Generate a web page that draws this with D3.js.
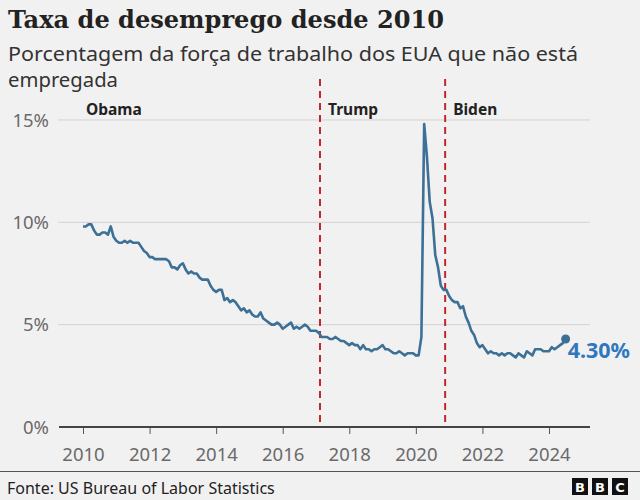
<!DOCTYPE html>
<html><head><meta charset="utf-8">
<script src="https://cdn.jsdelivr.net/npm/d3@7"></script>
<style>
html,body{margin:0;padding:0;background:#f2f1f1;}
svg{display:block;}
</style></head>
<body>
<script>
const years = [2010,2011,2012,2013,2014,2015,2016,2017,2018,2019,2020,2021,2022,2023,2024];
const rates2010 = [9.8,9.8,9.9,9.9,9.6,9.4,9.4,9.5,9.5,9.4,9.8,9.3];
const rates2011 = [9.1,9.0,9.0,9.1,9.0,9.1,9.0,9.0,9.0,8.8,8.6,8.5];
const rates2012 = [8.3,8.3,8.2,8.2,8.2,8.2,8.2,8.1,7.8,7.8,7.7,7.9];
const rates2013 = [8.0,7.7,7.5,7.6,7.5,7.5,7.3,7.2,7.2,7.2,6.9,6.7];
const rates2014 = [6.6,6.7,6.7,6.2,6.3,6.1,6.2,6.1,5.9,5.7,5.8,5.6];
const rates2015 = [5.7,5.5,5.4,5.4,5.6,5.3,5.2,5.1,5.0,5.0,5.1,5.0];
const rates2016 = [4.8,4.9,5.0,5.1,4.8,4.9,4.8,4.9,5.0,4.9,4.7,4.7];
const rates2017 = [4.7,4.6,4.4,4.4,4.4,4.3,4.3,4.4,4.3,4.2,4.2,4.1];
const rates2018 = [4.0,4.1,4.0,4.0,3.8,4.0,3.8,3.8,3.7,3.8,3.8,3.9];
const rates2019 = [4.0,3.8,3.8,3.7,3.6,3.6,3.7,3.6,3.5,3.6,3.6,3.6];
const rates2020 = [3.5,3.5,4.4,14.8,13.2,11.0,10.2,8.4,7.8,6.9,6.7,6.7];
const rates2021 = [6.4,6.2,6.1,6.1,5.8,5.9,5.4,5.1,4.7,4.5,4.1,3.9];
const rates2022 = [4.0,3.8,3.6,3.7,3.6,3.6,3.5,3.6,3.5,3.6,3.6,3.5];
const rates2023 = [3.4,3.6,3.5,3.4,3.7,3.6,3.5,3.8,3.8,3.8,3.7,3.7];
const rates2024 = [3.7,3.9,3.8,3.9,4.0,4.1,4.3];
const ratesByYear = [rates2010,rates2011,rates2012,rates2013,rates2014,rates2015,rates2016,rates2017,rates2018,rates2019,rates2020,rates2021,rates2022,rates2023,rates2024];

const presidents = ["Obama","Trump","Biden"];
const presidentStarts = [2010.0, 2017.12, 2020.88];
const yTicks = [0,5,10,15];
const xTicks = [2010,2012,2014,2016,2018,2020,2022,2024];
const lastLabel = "4.30%";

const data = [];
years.forEach((y,i)=>ratesByYear[i].forEach((v,m)=>data.push({t:y+m/12, v})));

const W=640,H=500;
const svg=d3.select("body").append("svg").attr("width",W).attr("height",H);
svg.append("rect").attr("width",W).attr("height",H).attr("fill","#f2f1f1");

const x=d3.scaleLinear().domain([2010,2024]).range([83,549]);
const y=d3.scaleLinear().domain([0,15]).range([427,120]);

// title
svg.append("text").attr("x",8).attr("y",28).text("Taxa de desemprego desde 2010")
  .attr("font-family","'DejaVu Serif', serif").attr("font-weight","bold").attr("font-size",24).attr("fill","#222")
  .attr("textLength",436).attr("lengthAdjust","spacingAndGlyphs");
svg.append("text").attr("x",8).attr("y",61).text("Porcentagem da força de trabalho dos EUA que não está")
  .attr("font-family","'Noto Sans', sans-serif").attr("font-size",20).attr("fill","#333")
  .attr("textLength",570).attr("lengthAdjust","spacingAndGlyphs");
svg.append("text").attr("x",8).attr("y",87).text("empregada")
  .attr("font-family","'Noto Sans', sans-serif").attr("font-size",20).attr("fill","#333")
  .attr("textLength",110).attr("lengthAdjust","spacingAndGlyphs");

// grid
const grid=svg.append("g");
yTicks.filter(d=>d>0).forEach(d=>{
  grid.append("line").attr("x1",58).attr("x2",590).attr("y1",y(d)).attr("y2",y(d)).attr("stroke","#d3d1d1").attr("stroke-width",1);
});
yTicks.forEach(d=>{
  svg.append("text").attr("x",49).attr("y",y(d)+6.5).attr("text-anchor","end").text(d+"%")
    .attr("font-family","'Noto Sans', sans-serif").attr("font-size",18.5).attr("fill","#6a6a6a");
});

// x axis
const xAxis=d3.axisBottom(x).tickValues(xTicks).tickFormat(d3.format("d")).tickSize(7).tickSizeOuter(0);
const gx=svg.append("g").attr("transform",`translate(0,${y(0)})`).call(xAxis);
gx.select(".domain").remove();
gx.selectAll(".tick line").attr("stroke","#555").attr("stroke-width",1);
gx.selectAll(".tick text").attr("font-family","'Noto Sans', sans-serif").attr("font-size",18.5).attr("fill","#6a6a6a")
  .attr("y",34).attr("dy",0);
svg.append("line").attr("x1",59).attr("x2",590).attr("y1",y(0)).attr("y2",y(0)).attr("stroke","#444").attr("stroke-width",2);

// president lines
presidents.forEach((p,i)=>{
  if(i>0){
    svg.append("line").attr("x1",x(presidentStarts[i])).attr("x2",x(presidentStarts[i])).attr("y1",79).attr("y2",y(0)-1)
      .attr("stroke","#c1272d").attr("stroke-width",2).attr("stroke-dasharray","7,5");
  }
  svg.append("text").attr("x",i===0?86:x(presidentStarts[i])+8).attr("y",115).text(p)
    .attr("font-family","'Noto Sans', sans-serif").attr("font-weight","bold").attr("font-size",15.5).attr("fill","#222");
});

// line
const line=d3.line().x(d=>x(d.t)).y(d=>y(d.v));
svg.append("path").datum(data).attr("d",line).attr("fill","none").attr("stroke","#3d7096").attr("stroke-width",2.6).attr("stroke-linejoin","round");
const last=data[data.length-1];
svg.append("circle").attr("cx",x(last.t)).attr("cy",y(last.v)).attr("r",4.5).attr("fill","#3d7096");
svg.append("text").attr("x",x(last.t)+2).attr("y",y(last.v)+19).text(lastLabel)
  .attr("font-family","'Noto Sans', sans-serif").attr("font-weight","bold").attr("font-size",21.5).attr("fill","#2f78bd");

// footer
svg.append("line").attr("x1",0).attr("x2",W).attr("y1",471.5).attr("y2",471.5).attr("stroke","#555").attr("stroke-width",1);
svg.append("text").attr("x",7).attr("y",494).text("Fonte: US Bureau of Labor Statistics")
  .attr("font-family","'Noto Sans', sans-serif").attr("font-size",16).attr("fill","#222");
["B","B","C"].forEach((c,i)=>{
  const bx=572+i*20;
  svg.append("rect").attr("x",bx).attr("y",478).attr("width",16).attr("height",17).attr("fill","#111");
  svg.append("text").attr("x",bx+8).attr("y",492).attr("text-anchor","middle").text(c)
    .attr("font-family","'DejaVu Sans', sans-serif").attr("font-weight","bold").attr("font-size",13).attr("fill","#fff");
});
</script>
</body></html>
